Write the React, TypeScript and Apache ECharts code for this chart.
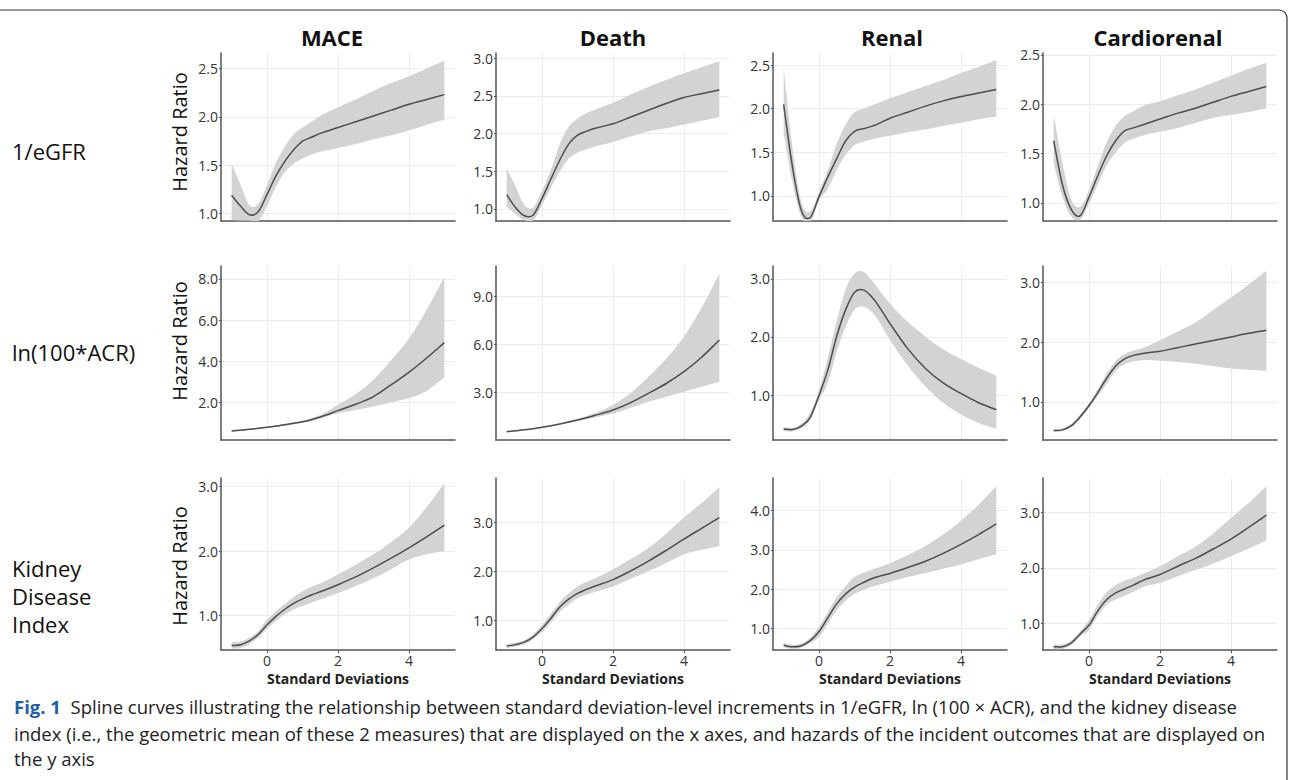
import React, { useEffect, useRef } from "react";
import * as echarts from "echarts";

// ---------- DATA ----------
const X = [-1, -0.75, -0.5, -0.25, 0, 0.25, 0.5, 0.75, 1, 1.25, 1.5, 2, 2.5, 3, 3.5, 4, 4.5, 5];

const columnTitles = ["MACE", "Death", "Renal", "Cardiorenal"];
const rowTitles = ["1/eGFR", "ln(100*ACR)", "Kidney\nDisease\nIndex"];
const yAxisTitle = "Hazard Ratio";
const xAxisTitle = "Standard Deviations";
const xTicks = [0, 2, 4];

// Row 1: 1/eGFR
const maceEgfrMid = [1.19, 1.08, 0.99, 1.02, 1.20, 1.39, 1.54, 1.66, 1.75, 1.79, 1.83, 1.89, 1.95, 2.01, 2.07, 2.13, 2.18, 2.23];
const maceEgfrLo = [0.935, 0.93, 0.93, 0.92, 1.08, 1.28, 1.43, 1.52, 1.57, 1.61, 1.64, 1.68, 1.72, 1.77, 1.81, 1.86, 1.92, 1.97];
const maceEgfrHi = [1.52, 1.30, 1.09, 1.10, 1.30, 1.53, 1.69, 1.82, 1.89, 1.95, 2.01, 2.10, 2.18, 2.27, 2.35, 2.42, 2.50, 2.58];

const deathEgfrMid = [1.19, 1.02, 0.91, 0.92, 1.14, 1.40, 1.65, 1.86, 1.98, 2.03, 2.07, 2.13, 2.22, 2.31, 2.40, 2.48, 2.53, 2.58];
const deathEgfrLo = [1.03, 0.93, 0.85, 0.85, 1.05, 1.28, 1.50, 1.67, 1.75, 1.79, 1.83, 1.89, 1.96, 2.03, 2.07, 2.12, 2.17, 2.22];
const deathEgfrHi = [1.54, 1.30, 1.05, 1.02, 1.24, 1.52, 1.86, 2.09, 2.20, 2.27, 2.32, 2.41, 2.52, 2.62, 2.71, 2.80, 2.88, 2.96];

const renalEgfrMid = [2.05, 1.33, 0.83, 0.75, 0.99, 1.22, 1.43, 1.63, 1.74, 1.77, 1.80, 1.89, 1.96, 2.03, 2.09, 2.14, 2.18, 2.22];
const renalEgfrLo = [1.72, 1.15, 0.76, 0.70, 0.95, 1.08, 1.30, 1.47, 1.58, 1.62, 1.65, 1.69, 1.73, 1.76, 1.80, 1.84, 1.88, 1.91];
const renalEgfrHi = [2.47, 1.55, 0.93, 0.82, 1.05, 1.30, 1.60, 1.82, 1.96, 2.00, 2.04, 2.12, 2.19, 2.26, 2.33, 2.41, 2.48, 2.56];

const cardioEgfrMid = [1.63, 1.18, 0.93, 0.87, 1.06, 1.28, 1.48, 1.63, 1.73, 1.76, 1.79, 1.85, 1.91, 1.96, 2.02, 2.08, 2.13, 2.18];
const cardioEgfrLo = [1.40, 1.06, 0.86, 0.83, 0.99, 1.19, 1.38, 1.51, 1.61, 1.65, 1.68, 1.72, 1.76, 1.81, 1.86, 1.89, 1.92, 1.96];
const cardioEgfrHi = [1.89, 1.40, 1.03, 0.96, 1.13, 1.38, 1.62, 1.78, 1.88, 1.93, 1.98, 2.03, 2.09, 2.15, 2.22, 2.29, 2.36, 2.42];

// Row 2: ln(100*ACR)
const maceAcrMid = [0.60, 0.64, 0.68, 0.73, 0.78, 0.84, 0.90, 0.97, 1.05, 1.15, 1.28, 1.59, 1.90, 2.27, 2.85, 3.45, 4.15, 4.90];
const maceAcrLo = [0.57, 0.61, 0.65, 0.70, 0.75, 0.80, 0.86, 0.93, 1.00, 1.09, 1.20, 1.46, 1.62, 1.79, 2.00, 2.20, 2.55, 3.20];
const maceAcrHi = [0.63, 0.67, 0.71, 0.76, 0.81, 0.87, 0.94, 1.01, 1.10, 1.22, 1.38, 1.87, 2.40, 3.09, 4.05, 5.10, 6.50, 8.10];

const deathAcrMid = [0.52, 0.58, 0.64, 0.71, 0.80, 0.90, 1.01, 1.13, 1.26, 1.40, 1.55, 1.88, 2.35, 2.93, 3.55, 4.29, 5.20, 6.28];
const deathAcrLo = [0.49, 0.55, 0.61, 0.68, 0.76, 0.86, 0.96, 1.07, 1.19, 1.31, 1.43, 1.67, 2.02, 2.41, 2.72, 3.03, 3.35, 3.66];
const deathAcrHi = [0.55, 0.61, 0.67, 0.74, 0.83, 0.94, 1.06, 1.19, 1.34, 1.51, 1.70, 2.20, 2.95, 3.97, 5.10, 6.48, 8.30, 10.46];

const renalAcrMid = [0.42, 0.41, 0.47, 0.62, 1.00, 1.44, 2.02, 2.47, 2.77, 2.81, 2.68, 2.23, 1.80, 1.46, 1.21, 1.03, 0.87, 0.75];
const renalAcrLo = [0.38, 0.38, 0.43, 0.57, 0.92, 1.22, 1.75, 2.18, 2.47, 2.52, 2.42, 1.95, 1.51, 1.15, 0.87, 0.67, 0.52, 0.42];
const renalAcrHi = [0.45, 0.44, 0.51, 0.70, 1.09, 1.65, 2.28, 2.82, 3.09, 3.12, 2.96, 2.57, 2.26, 2.01, 1.79, 1.62, 1.47, 1.33];

const cardioAcrMid = [0.52, 0.53, 0.60, 0.75, 0.94, 1.16, 1.40, 1.60, 1.72, 1.78, 1.81, 1.85, 1.91, 1.97, 2.03, 2.09, 2.15, 2.20];
const cardioAcrLo = [0.50, 0.51, 0.57, 0.71, 0.90, 1.10, 1.31, 1.52, 1.63, 1.68, 1.70, 1.69, 1.67, 1.64, 1.60, 1.56, 1.54, 1.52];
const cardioAcrHi = [0.54, 0.55, 0.63, 0.79, 0.98, 1.22, 1.48, 1.69, 1.80, 1.86, 1.90, 2.04, 2.18, 2.33, 2.54, 2.75, 2.97, 3.20];

// Row 3: Kidney Disease Index
const maceKdiMid = [0.54, 0.55, 0.61, 0.71, 0.86, 0.99, 1.10, 1.19, 1.26, 1.32, 1.37, 1.48, 1.60, 1.74, 1.89, 2.05, 2.22, 2.40];
const maceKdiLo = [0.49, 0.50, 0.56, 0.66, 0.80, 0.92, 1.02, 1.10, 1.15, 1.20, 1.25, 1.35, 1.46, 1.58, 1.72, 1.87, 1.95, 2.00];
const maceKdiHi = [0.59, 0.60, 0.66, 0.76, 0.94, 1.07, 1.18, 1.29, 1.38, 1.45, 1.50, 1.64, 1.79, 1.95, 2.14, 2.36, 2.68, 3.05];

const deathKdiMid = [0.47, 0.50, 0.55, 0.66, 0.83, 1.04, 1.27, 1.43, 1.55, 1.63, 1.70, 1.83, 2.01, 2.21, 2.43, 2.66, 2.88, 3.10];
const deathKdiLo = [0.43, 0.46, 0.51, 0.61, 0.76, 0.96, 1.17, 1.32, 1.45, 1.52, 1.58, 1.69, 1.85, 2.00, 2.17, 2.35, 2.44, 2.52];
const deathKdiHi = [0.51, 0.54, 0.59, 0.71, 0.90, 1.13, 1.37, 1.55, 1.69, 1.78, 1.86, 2.04, 2.25, 2.48, 2.77, 3.10, 3.40, 3.72];

const renalKdiMid = [0.57, 0.53, 0.56, 0.69, 0.92, 1.28, 1.63, 1.88, 2.05, 2.17, 2.27, 2.40, 2.55, 2.71, 2.91, 3.14, 3.39, 3.66];
const renalKdiLo = [0.52, 0.48, 0.51, 0.62, 0.79, 1.12, 1.46, 1.71, 1.88, 1.98, 2.06, 2.19, 2.31, 2.41, 2.52, 2.63, 2.76, 2.89];
const renalKdiHi = [0.62, 0.58, 0.61, 0.76, 1.04, 1.42, 1.80, 2.08, 2.31, 2.41, 2.50, 2.66, 2.87, 3.10, 3.39, 3.74, 4.15, 4.62];

const cardioKdiMid = [0.58, 0.58, 0.65, 0.81, 0.97, 1.23, 1.43, 1.55, 1.62, 1.69, 1.77, 1.88, 2.03, 2.17, 2.34, 2.52, 2.73, 2.95];
const cardioKdiLo = [0.54, 0.54, 0.61, 0.76, 0.88, 1.14, 1.34, 1.43, 1.50, 1.57, 1.65, 1.73, 1.85, 1.96, 2.08, 2.21, 2.35, 2.50];
const cardioKdiHi = [0.62, 0.62, 0.69, 0.86, 1.06, 1.34, 1.56, 1.69, 1.77, 1.82, 1.89, 2.03, 2.21, 2.38, 2.62, 2.90, 3.17, 3.47];

// y tick labels per panel (row-major)
const yTicks = [
  [1.0, 1.5, 2.0, 2.5], [1.0, 1.5, 2.0, 2.5, 3.0], [1.0, 1.5, 2.0, 2.5], [1.0, 1.5, 2.0, 2.5],
  [2.0, 4.0, 6.0, 8.0], [3.0, 6.0, 9.0], [1.0, 2.0, 3.0], [1.0, 2.0, 3.0],
  [1.0, 2.0, 3.0], [1.0, 2.0, 3.0], [1.0, 2.0, 3.0, 4.0], [1.0, 2.0, 3.0],
];
// y axis extents per panel
const yMin = [0.925, 0.84, 0.71, 0.815, 0.16, 0.0, 0.23, 0.36, 0.47, 0.39, 0.45, 0.52];
const yMax = [2.66, 3.07, 2.64, 2.52, 8.63, 10.93, 3.22, 3.28, 3.13, 3.91, 4.83, 3.62];

const panelData = [
  [maceEgfrMid, maceEgfrLo, maceEgfrHi], [deathEgfrMid, deathEgfrLo, deathEgfrHi],
  [renalEgfrMid, renalEgfrLo, renalEgfrHi], [cardioEgfrMid, cardioEgfrLo, cardioEgfrHi],
  [maceAcrMid, maceAcrLo, maceAcrHi], [deathAcrMid, deathAcrLo, deathAcrHi],
  [renalAcrMid, renalAcrLo, renalAcrHi], [cardioAcrMid, cardioAcrLo, cardioAcrHi],
  [maceKdiMid, maceKdiLo, maceKdiHi], [deathKdiMid, deathKdiLo, deathKdiHi],
  [renalKdiMid, renalKdiLo, renalKdiHi], [cardioKdiMid, cardioKdiLo, cardioKdiHi],
];

const captionLine1 = "Spline curves illustrating the relationship between standard deviation-level increments in 1/eGFR, ln (100 × ACR), and the kidney disease";
const captionLine2 = "index (i.e., the geometric mean of these 2 measures) that are displayed on the x axes, and hazards of the incident outcomes that are displayed on";
const captionLine3 = "the y axis";

// ---------- LAYOUT ----------
const FONT = "'Open Sans', 'Noto Sans', sans-serif";
const colLeft = [221, 496, 773, 1043];
const gridW = 234;
const rowTop = [53, 266, 478];
const rowH = [168, 174, 172];
const colCenter = [332, 613, 892, 1158];
const rowLabelY = [151, 352, 596];
const yTitleY = [132, 341, 566];

// smooth cubic Hermite path through pixel points
function hermite(pts: number[][], moveFirst: boolean): string {
  const n = pts.length;
  const s: number[] = [];
  const h: number[] = [];
  for (let i = 0; i < n - 1; i++) {
    h.push(pts[i + 1][0] - pts[i][0]);
    s.push((pts[i + 1][1] - pts[i][1]) / (pts[i + 1][0] - pts[i][0]));
  }
  const m: number[] = [];
  for (let i = 0; i < n; i++) {
    if (i === 0) m.push(s[0]);
    else if (i === n - 1) m.push(s[n - 2]);
    else m.push((s[i - 1] * h[i] + s[i] * h[i - 1]) / (h[i - 1] + h[i]));
  }
  let d = (moveFirst ? "M" : "L") + pts[0][0].toFixed(2) + "," + pts[0][1].toFixed(2);
  for (let i = 0; i < n - 1; i++) {
    const dx = h[i] / 3;
    const c1x = pts[i][0] + dx, c1y = pts[i][1] + m[i] * dx;
    const c2x = pts[i + 1][0] - dx, c2y = pts[i + 1][1] - m[i + 1] * dx;
    d += " C" + c1x.toFixed(2) + "," + c1y.toFixed(2) + " " + c2x.toFixed(2) + "," + c2y.toFixed(2) + " " +
      pts[i + 1][0].toFixed(2) + "," + pts[i + 1][1].toFixed(2);
  }
  return d;
}

export default function App() {
  const ref = useRef<HTMLDivElement>(null);
  useEffect(() => {
    if (!ref.current) return;
    const chart = echarts.init(ref.current, undefined, { renderer: "svg" });
    const grids: any[] = [];
    const xAxes: any[] = [];
    const yAxes: any[] = [];
    const series: any[] = [];
    for (let i = 0; i < 12; i++) {
      const r = Math.floor(i / 4);
      const c = i % 4;
      grids.push({ left: colLeft[c], top: rowTop[r], width: gridW, height: rowH[r] });
      const lastRow = r === 2;
      xAxes.push({
        gridIndex: i, type: "value", min: -1.3, max: 5.3,
        axisLine: { show: true, onZero: false, lineStyle: { color: "#555", width: 1.5 } },
        axisTick: { show: lastRow, customValues: xTicks, length: 3, lineStyle: { color: "#555" } },
        axisLabel: { show: lastRow, customValues: xTicks, color: "#333", fontSize: 14, fontFamily: FONT, margin: 3 },
        splitLine: { show: true, lineStyle: { color: "#ececec", width: 1 } },
        name: lastRow ? xAxisTitle : "",
        nameLocation: "middle", nameGap: 21,
        nameTextStyle: { fontSize: 14, fontWeight: "bold", color: "#222", fontFamily: FONT },
      });
      yAxes.push({
        gridIndex: i, type: "value", min: yMin[i], max: yMax[i],
        axisLine: { show: true, onZero: false, lineStyle: { color: "#555", width: 1.5 } },
        axisTick: { show: true, customValues: yTicks[i], length: 2, lineStyle: { color: "#555" } },
        axisLabel: {
          customValues: yTicks[i], formatter: (v: number) => v.toFixed(1),
          color: "#333", fontSize: 14, fontFamily: FONT, margin: 3,
        },
        splitLine: { show: true, lineStyle: { color: "#ececec", width: 1 } },
      });
      const [mid, lo, hi] = panelData[i];
      series.push({
        type: "custom", xAxisIndex: i, yAxisIndex: i,
        data: X.map((x, k) => [x, mid[k]]),
        encode: { x: 0, y: 1 }, silent: true, clip: true,
        renderItem: (params: any, api: any) => {
          if (params.dataIndex !== 0) return null;
          const up = X.map((x, k) => api.coord([x, hi[k]]));
          const dn = X.map((x, k) => api.coord([x, lo[k]])).reverse();
          const md = X.map((x, k) => api.coord([x, mid[k]]));
          const bandPath = hermite(up, true) + " " + hermite(dn, false) + " Z";
          return {
            type: "group",
            children: [
              { type: "path", shape: { pathData: bandPath }, style: { fill: "#d3d3d3", stroke: "none" } },
              { type: "path", shape: { pathData: hermite(md, true) }, style: { fill: "none", stroke: "#4d4d4d", lineWidth: 1.5 } },
            ],
          };
        },
      });
    }

    const graphics: any[] = [
      {
        type: "rect", shape: { x: -10, y: 10, width: 1297, height: 800, r: [0, 8, 0, 0] },
        style: { fill: "none", stroke: "#333", lineWidth: 1.2 }, silent: true,
      },
    ];
    columnTitles.forEach((t, c) => {
      graphics.push({
        type: "text", x: colCenter[c], y: 37,
        style: { text: t, fontSize: 22, fontWeight: "bold", fontFamily: FONT, fill: "#111", align: "center", verticalAlign: "middle" },
      });
    });
    rowTitles.forEach((t, r) => {
      graphics.push({
        type: "text", x: 12, y: rowLabelY[r],
        style: { text: t, fontSize: 22, fontFamily: FONT, fill: "#111", align: "left", verticalAlign: "middle", lineHeight: 28 },
      });
      graphics.push({
        type: "text", x: 179, y: yTitleY[r], rotation: Math.PI / 2,
        style: { text: yAxisTitle, fontSize: 20, fontFamily: FONT, fill: "#111", align: "center", verticalAlign: "middle" },
      });
    });
    graphics.push({
      type: "text", x: 14, y: 706,
      style: {
        text: "{b|Fig. 1}  " + captionLine1,
        fontSize: 18.5, fontFamily: FONT, fill: "#222", verticalAlign: "middle",
        rich: { b: { fontSize: 18.5, fontWeight: "bold", fill: "#1f5fa5", fontFamily: FONT } },
      },
    });
    graphics.push({
      type: "text", x: 14, y: 733,
      style: { text: captionLine2, fontSize: 18.5, fontFamily: FONT, fill: "#222", verticalAlign: "middle" },
    });
    graphics.push({
      type: "text", x: 14, y: 758,
      style: { text: captionLine3, fontSize: 18.5, fontFamily: FONT, fill: "#222", verticalAlign: "middle" },
    });

    chart.setOption({
      animation: false,
      backgroundColor: "#fff",
      grid: grids, xAxis: xAxes, yAxis: yAxes, series, graphic: graphics,
    });
    return () => chart.dispose();
  }, []);
  return <div ref={ref} style={{ position: "fixed", left: 0, top: 0, width: 1292, height: 780 }} />;
}
